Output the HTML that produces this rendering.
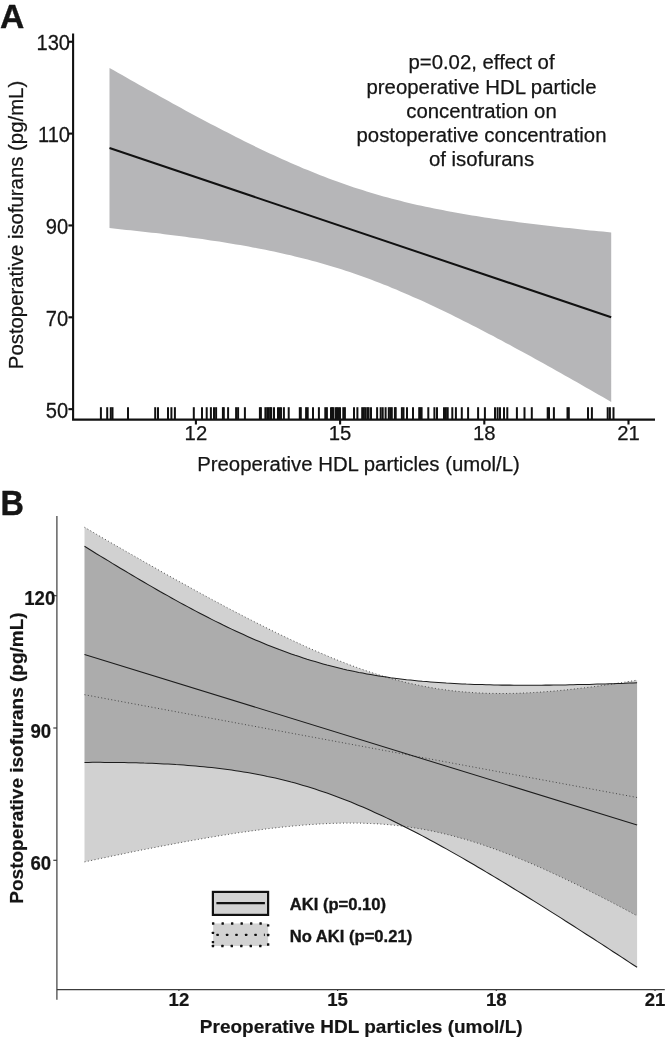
<!DOCTYPE html>
<html><head><meta charset="utf-8"><title>Figure</title>
<style>
html,body{margin:0;padding:0;background:#fff;}
body{width:666px;height:1040px;overflow:hidden;}
svg{display:block;will-change:transform;}
text{font-family:"Liberation Sans",sans-serif;fill:#151515;stroke:#151515;stroke-width:0.25px;stroke-linejoin:round;}
.tb,.tbx,.ttb{stroke-width:0.2px;}
.lg{stroke-width:0.35px;}
.pl{stroke-width:0.4px;}
.t{font-size:20.3px;}
.tt{font-size:20.35px;}
.ty{font-size:20.1px;}
.b{font-weight:bold;}
.tb{font-size:18.6px;font-weight:bold;}
.tbx{font-size:18.6px;font-weight:bold;}
.ttb{font-size:19px;font-weight:bold;}
.lg{font-size:16.6px;font-weight:bold;}
.pl{font-size:33px;font-weight:bold;}
</style></head><body>
<svg width="666" height="1040" viewBox="0 0 666 1040">

<!-- ===== Panel A ===== -->
<text class="pl" style="font-size:33.6px" transform="translate(0,28.25) scale(1,0.995)">A</text>
<polygon points="109.5,67.9 113.7,70.3 117.9,72.7 122.1,75.1 126.4,77.5 130.6,79.9 134.8,82.3 139.0,84.7 143.2,87.1 147.4,89.4 151.7,91.8 155.9,94.1 160.1,96.5 164.3,98.8 168.5,101.1 172.7,103.5 177.0,105.8 181.2,108.1 185.4,110.4 189.6,112.7 193.8,114.9 198.0,117.2 202.3,119.4 206.5,121.7 210.7,123.9 214.9,126.1 219.1,128.3 223.3,130.5 227.5,132.6 231.8,134.8 236.0,136.9 240.2,139.1 244.4,141.2 248.6,143.2 252.8,145.3 257.1,147.4 261.3,149.4 265.5,151.4 269.7,153.4 273.9,155.3 278.1,157.3 282.4,159.2 286.6,161.1 290.8,162.9 295.0,164.8 299.2,166.6 303.4,168.4 307.7,170.1 311.9,171.8 316.1,173.5 320.3,175.2 324.5,176.8 328.7,178.4 332.9,180.0 337.2,181.6 341.4,183.1 345.6,184.5 349.8,186.0 354.0,187.4 358.2,188.8 362.5,190.1 366.7,191.4 370.9,192.7 375.1,194.0 379.3,195.2 383.5,196.4 387.8,197.5 392.0,198.7 396.2,199.8 400.4,200.8 404.6,201.9 408.8,202.9 413.0,203.9 417.3,204.9 421.5,205.8 425.7,206.7 429.9,207.6 434.1,208.5 438.3,209.3 442.6,210.1 446.8,210.9 451.0,211.7 455.2,212.5 459.4,213.2 463.6,214.0 467.9,214.7 472.1,215.4 476.3,216.1 480.5,216.7 484.7,217.4 488.9,218.0 493.2,218.7 497.4,219.3 501.6,219.9 505.8,220.5 510.0,221.0 514.2,221.6 518.4,222.2 522.7,222.7 526.9,223.2 531.1,223.8 535.3,224.3 539.5,224.8 543.7,225.3 548.0,225.8 552.2,226.3 556.4,226.8 560.6,227.2 564.8,227.7 569.0,228.1 573.3,228.6 577.5,229.0 581.7,229.5 585.9,229.9 590.1,230.4 594.3,230.8 598.6,231.2 602.8,231.6 607.0,232.0 611.2,232.4 611.2,402.0 607.0,399.5 602.8,397.1 598.6,394.7 594.3,392.2 590.1,389.8 585.9,387.4 581.7,385.0 577.5,382.6 573.3,380.2 569.0,377.8 564.8,375.4 560.6,373.1 556.4,370.7 552.2,368.3 548.0,366.0 543.7,363.6 539.5,361.3 535.3,358.9 531.1,356.6 526.9,354.3 522.7,352.0 518.4,349.7 514.2,347.4 510.0,345.1 505.8,342.9 501.6,340.6 497.4,338.4 493.2,336.1 488.9,333.9 484.7,331.7 480.5,329.5 476.3,327.3 472.1,325.2 467.9,323.0 463.6,320.9 459.4,318.8 455.2,316.7 451.0,314.6 446.8,312.5 442.6,310.5 438.3,308.5 434.1,306.5 429.9,304.5 425.7,302.6 421.5,300.6 417.3,298.7 413.0,296.9 408.8,295.0 404.6,293.2 400.4,291.4 396.2,289.6 392.0,287.9 387.8,286.1 383.5,284.5 379.3,282.8 375.1,281.2 370.9,279.6 366.7,278.0 362.5,276.5 358.2,275.0 354.0,273.5 349.8,272.1 345.6,270.7 341.4,269.3 337.2,268.0 332.9,266.7 328.7,265.4 324.5,264.2 320.3,263.0 316.1,261.8 311.9,260.7 307.7,259.5 303.4,258.5 299.2,257.4 295.0,256.4 290.8,255.3 286.6,254.4 282.4,253.4 278.1,252.5 273.9,251.6 269.7,250.7 265.5,249.8 261.3,249.0 257.1,248.2 252.8,247.4 248.6,246.6 244.4,245.8 240.2,245.1 236.0,244.4 231.8,243.7 227.5,243.0 223.3,242.3 219.1,241.6 214.9,241.0 210.7,240.4 206.5,239.7 202.3,239.1 198.0,238.5 193.8,238.0 189.6,237.4 185.4,236.8 181.2,236.3 177.0,235.7 172.7,235.2 168.5,234.7 164.3,234.2 160.1,233.6 155.9,233.1 151.7,232.7 147.4,232.2 143.2,231.7 139.0,231.2 134.8,230.8 130.6,230.3 126.4,229.9 122.1,229.4 117.9,229.0 113.7,228.5 109.5,228.1" fill="#b6b6b8"/>
<line x1="109.5" y1="148.0" x2="611.2" y2="317.2" stroke="#111" stroke-width="2"/>
<g stroke="#111" stroke-width="2.1" fill="none">
<path d="M73.1,33.4 V419.6 H655"/>
<line x1="68.4" y1="41.75" x2="73.1" y2="41.75"/><line x1="68.4" y1="133.6" x2="73.1" y2="133.6"/><line x1="68.4" y1="225.45" x2="73.1" y2="225.45"/><line x1="68.4" y1="317.3" x2="73.1" y2="317.3"/><line x1="68.4" y1="409.15" x2="73.1" y2="409.15"/>
<line x1="195.9" y1="419.6" x2="195.9" y2="424.5"/><line x1="340.1" y1="419.6" x2="340.1" y2="424.5"/><line x1="484.3" y1="419.6" x2="484.3" y2="424.5"/><line x1="628.5" y1="419.6" x2="628.5" y2="424.5"/>
</g>
<g stroke="#111" stroke-width="2"><line x1="100.9" y1="407.2" x2="100.9" y2="419.6"/><line x1="107.2" y1="407.2" x2="107.2" y2="419.6"/><line x1="110.8" y1="407.2" x2="110.8" y2="419.6"/><line x1="112.5" y1="407.2" x2="112.5" y2="419.6"/><line x1="128.0" y1="407.2" x2="128.0" y2="419.6"/><line x1="155.2" y1="407.2" x2="155.2" y2="419.6"/><line x1="158.0" y1="407.2" x2="158.0" y2="419.6"/><line x1="168.0" y1="407.2" x2="168.0" y2="419.6"/><line x1="171.4" y1="407.2" x2="171.4" y2="419.6"/><line x1="174.9" y1="407.2" x2="174.9" y2="419.6"/><line x1="193.8" y1="407.2" x2="193.8" y2="419.6"/><line x1="202.0" y1="407.2" x2="202.0" y2="419.6"/><line x1="206.7" y1="407.2" x2="206.7" y2="419.6"/><line x1="210.9" y1="407.2" x2="210.9" y2="419.6"/><line x1="214.0" y1="407.2" x2="214.0" y2="419.6"/><line x1="216.1" y1="407.2" x2="216.1" y2="419.6"/><line x1="222.9" y1="407.2" x2="222.9" y2="419.6"/><line x1="223.8" y1="407.2" x2="223.8" y2="419.6"/><line x1="228.1" y1="407.2" x2="228.1" y2="419.6"/><line x1="236.1" y1="407.2" x2="236.1" y2="419.6"/><line x1="238.1" y1="407.2" x2="238.1" y2="419.6"/><line x1="244.9" y1="407.2" x2="244.9" y2="419.6"/><line x1="259.9" y1="407.2" x2="259.9" y2="419.6"/><line x1="260.9" y1="407.2" x2="260.9" y2="419.6"/><line x1="265.4" y1="407.2" x2="265.4" y2="419.6"/><line x1="267.2" y1="407.2" x2="267.2" y2="419.6"/><line x1="268.8" y1="407.2" x2="268.8" y2="419.6"/><line x1="270.4" y1="407.2" x2="270.4" y2="419.6"/><line x1="271.2" y1="407.2" x2="271.2" y2="419.6"/><line x1="274.0" y1="407.2" x2="274.0" y2="419.6"/><line x1="278.0" y1="407.2" x2="278.0" y2="419.6"/><line x1="279.6" y1="407.2" x2="279.6" y2="419.6"/><line x1="281.0" y1="407.2" x2="281.0" y2="419.6"/><line x1="283.9" y1="407.2" x2="283.9" y2="419.6"/><line x1="288.7" y1="407.2" x2="288.7" y2="419.6"/><line x1="299.8" y1="407.2" x2="299.8" y2="419.6"/><line x1="300.8" y1="407.2" x2="300.8" y2="419.6"/><line x1="306.1" y1="407.2" x2="306.1" y2="419.6"/><line x1="307.7" y1="407.2" x2="307.7" y2="419.6"/><line x1="313.0" y1="407.2" x2="313.0" y2="419.6"/><line x1="318.9" y1="407.2" x2="318.9" y2="419.6"/><line x1="325.3" y1="407.2" x2="325.3" y2="419.6"/><line x1="326.9" y1="407.2" x2="326.9" y2="419.6"/><line x1="331.0" y1="407.2" x2="331.0" y2="419.6"/><line x1="332.2" y1="407.2" x2="332.2" y2="419.6"/><line x1="333.2" y1="407.2" x2="333.2" y2="419.6"/><line x1="335.6" y1="407.2" x2="335.6" y2="419.6"/><line x1="337.0" y1="407.2" x2="337.0" y2="419.6"/><line x1="338.5" y1="407.2" x2="338.5" y2="419.6"/><line x1="340.0" y1="407.2" x2="340.0" y2="419.6"/><line x1="343.3" y1="407.2" x2="343.3" y2="419.6"/><line x1="344.9" y1="407.2" x2="344.9" y2="419.6"/><line x1="354.0" y1="407.2" x2="354.0" y2="419.6"/><line x1="357.4" y1="407.2" x2="357.4" y2="419.6"/><line x1="362.2" y1="407.2" x2="362.2" y2="419.6"/><line x1="363.8" y1="407.2" x2="363.8" y2="419.6"/><line x1="365.3" y1="407.2" x2="365.3" y2="419.6"/><line x1="367.3" y1="407.2" x2="367.3" y2="419.6"/><line x1="368.6" y1="407.2" x2="368.6" y2="419.6"/><line x1="371.0" y1="407.2" x2="371.0" y2="419.6"/><line x1="377.1" y1="407.2" x2="377.1" y2="419.6"/><line x1="380.7" y1="407.2" x2="380.7" y2="419.6"/><line x1="382.7" y1="407.2" x2="382.7" y2="419.6"/><line x1="385.6" y1="407.2" x2="385.6" y2="419.6"/><line x1="388.8" y1="407.2" x2="388.8" y2="419.6"/><line x1="390.3" y1="407.2" x2="390.3" y2="419.6"/><line x1="391.8" y1="407.2" x2="391.8" y2="419.6"/><line x1="394.9" y1="407.2" x2="394.9" y2="419.6"/><line x1="395.7" y1="407.2" x2="395.7" y2="419.6"/><line x1="401.9" y1="407.2" x2="401.9" y2="419.6"/><line x1="403.5" y1="407.2" x2="403.5" y2="419.6"/><line x1="407.0" y1="407.2" x2="407.0" y2="419.6"/><line x1="413.0" y1="407.2" x2="413.0" y2="419.6"/><line x1="419.2" y1="407.2" x2="419.2" y2="419.6"/><line x1="420.4" y1="407.2" x2="420.4" y2="419.6"/><line x1="421.6" y1="407.2" x2="421.6" y2="419.6"/><line x1="428.3" y1="407.2" x2="428.3" y2="419.6"/><line x1="434.4" y1="407.2" x2="434.4" y2="419.6"/><line x1="437.0" y1="407.2" x2="437.0" y2="419.6"/><line x1="444.0" y1="407.2" x2="444.0" y2="419.6"/><line x1="445.9" y1="407.2" x2="445.9" y2="419.6"/><line x1="447.7" y1="407.2" x2="447.7" y2="419.6"/><line x1="452.3" y1="407.2" x2="452.3" y2="419.6"/><line x1="455.9" y1="407.2" x2="455.9" y2="419.6"/><line x1="461.8" y1="407.2" x2="461.8" y2="419.6"/><line x1="468.1" y1="407.2" x2="468.1" y2="419.6"/><line x1="478.1" y1="407.2" x2="478.1" y2="419.6"/><line x1="484.9" y1="407.2" x2="484.9" y2="419.6"/><line x1="495.0" y1="407.2" x2="495.0" y2="419.6"/><line x1="497.6" y1="407.2" x2="497.6" y2="419.6"/><line x1="500.0" y1="407.2" x2="500.0" y2="419.6"/><line x1="504.0" y1="407.2" x2="504.0" y2="419.6"/><line x1="507.3" y1="407.2" x2="507.3" y2="419.6"/><line x1="516.9" y1="407.2" x2="516.9" y2="419.6"/><line x1="524.5" y1="407.2" x2="524.5" y2="419.6"/><line x1="531.8" y1="407.2" x2="531.8" y2="419.6"/><line x1="547.7" y1="407.2" x2="547.7" y2="419.6"/><line x1="549.0" y1="407.2" x2="549.0" y2="419.6"/><line x1="553.9" y1="407.2" x2="553.9" y2="419.6"/><line x1="567.5" y1="407.2" x2="567.5" y2="419.6"/><line x1="568.8" y1="407.2" x2="568.8" y2="419.6"/><line x1="588.0" y1="407.2" x2="588.0" y2="419.6"/><line x1="591.9" y1="407.2" x2="591.9" y2="419.6"/><line x1="607.7" y1="407.2" x2="607.7" y2="419.6"/><line x1="609.9" y1="407.2" x2="609.9" y2="419.6"/><line x1="613.5" y1="407.2" x2="613.5" y2="419.6"/></g>
<g class="t" text-anchor="end">
<text class="ty" transform="translate(70.0,50.2) scale(1,1.07)">130</text><text class="ty" transform="translate(70.0,142.1) scale(1,1.07)">110</text><text class="ty" transform="translate(68.2,233.9) scale(1,1.07)">90</text><text class="ty" transform="translate(68.2,325.8) scale(1,1.07)">70</text><text class="ty" transform="translate(68.2,417.6) scale(1,1.07)">50</text>
</g>
<g text-anchor="middle">
<text class="t" x="195.9" y="440.1">12</text><text class="t" x="340.1" y="440.1">15</text><text class="t" x="484.3" y="440.1">18</text><text class="t" x="628.5" y="440.1">21</text>
<text class="tt" x="358.5" y="470.9">Preoperative HDL particles (umol/L)</text>
<text class="tt" transform="translate(22.6,225) rotate(-90)">Postoperative isofurans (pg/mL)</text>
<text class="tt" x="481.5" y="69.4">p=0.02, effect of</text>
<text class="tt" x="481.5" y="93.6">preoperative HDL particle</text>
<text class="tt" x="481.5" y="117.8">concentration on</text>
<text class="tt" x="481.5" y="142.0">postoperative concentration</text>
<text class="tt" x="481.5" y="166.2">of isofurans</text>
</g>
<!-- ===== Panel B ===== -->
<text class="pl" style="font-size:32.4px" transform="translate(0.4,515.0) scale(1,1.06)">B</text>
<polygon points="84.5,527.3 88.5,529.6 92.5,531.9 96.4,534.2 100.4,536.6 104.4,538.9 108.4,541.2 112.3,543.5 116.3,545.8 120.3,548.1 124.3,550.4 128.2,552.7 132.2,554.9 136.2,557.2 140.2,559.5 144.1,561.8 148.1,564.0 152.1,566.3 156.1,568.5 160.0,570.8 164.0,573.0 168.0,575.3 172.0,577.5 175.9,579.7 179.9,581.9 183.9,584.1 187.9,586.3 191.8,588.5 195.8,590.7 199.8,592.9 203.8,595.1 207.7,597.2 211.7,599.4 215.7,601.5 219.7,603.6 223.6,605.8 227.6,607.9 231.6,610.0 235.6,612.1 239.5,614.1 243.5,616.2 247.5,618.3 251.5,620.3 255.4,622.3 259.4,624.3 263.4,626.3 267.4,628.3 271.4,630.3 275.3,632.2 279.3,634.2 283.3,636.1 287.3,638.0 291.2,639.9 295.2,641.7 299.2,643.6 303.2,645.4 307.1,647.2 311.1,649.0 315.1,650.7 319.1,652.4 323.0,654.1 327.0,655.8 331.0,657.5 335.0,659.1 338.9,660.7 342.9,662.2 346.9,663.8 350.9,665.3 354.8,666.7 358.8,668.2 362.8,669.6 366.8,671.0 370.7,672.3 374.7,673.6 378.7,674.8 382.7,676.1 386.6,677.3 390.6,678.4 394.6,679.5 398.6,680.6 402.5,681.6 406.5,682.6 410.5,683.5 414.5,684.4 418.4,685.2 422.4,686.1 426.4,686.8 430.4,687.5 434.3,688.2 438.3,688.9 442.3,689.4 446.3,690.0 450.2,690.5 454.2,691.0 458.2,691.4 462.2,691.8 466.2,692.1 470.1,692.4 474.1,692.7 478.1,692.9 482.1,693.1 486.0,693.3 490.0,693.4 494.0,693.4 498.0,693.5 501.9,693.5 505.9,693.5 509.9,693.4 513.9,693.4 517.8,693.3 521.8,693.1 525.8,692.9 529.8,692.8 533.7,692.5 537.7,692.3 541.7,692.0 545.7,691.7 549.6,691.4 553.6,691.1 557.6,690.7 561.6,690.3 565.5,690.0 569.5,689.5 573.5,689.1 577.5,688.6 581.4,688.2 585.4,687.7 589.4,687.2 593.4,686.7 597.3,686.2 601.3,685.6 605.3,685.0 609.3,684.5 613.2,683.9 617.2,683.3 621.2,682.7 625.2,682.1 629.1,681.4 633.1,680.8 637.1,680.2 637.1,915.8 633.1,913.7 629.1,911.5 625.2,909.4 621.2,907.3 617.2,905.2 613.2,903.1 609.3,901.0 605.3,899.0 601.3,896.9 597.3,894.9 593.4,892.9 589.4,890.9 585.4,888.9 581.4,886.9 577.5,884.9 573.5,883.0 569.5,881.1 565.5,879.2 561.6,877.3 557.6,875.4 553.6,873.6 549.6,871.7 545.7,869.9 541.7,868.1 537.7,866.4 533.7,864.6 529.8,862.9 525.8,861.2 521.8,859.6 517.8,858.0 513.9,856.3 509.9,854.8 505.9,853.2 501.9,851.7 498.0,850.2 494.0,848.8 490.0,847.4 486.0,846.0 482.1,844.6 478.1,843.3 474.1,842.1 470.1,840.8 466.2,839.6 462.2,838.5 458.2,837.4 454.2,836.3 450.2,835.2 446.3,834.3 442.3,833.3 438.3,832.4 434.3,831.5 430.4,830.7 426.4,829.9 422.4,829.2 418.4,828.5 414.5,827.9 410.5,827.3 406.5,826.7 402.5,826.2 398.6,825.7 394.6,825.3 390.6,824.9 386.6,824.5 382.7,824.2 378.7,823.9 374.7,823.7 370.7,823.5 366.8,823.4 362.8,823.2 358.8,823.1 354.8,823.1 350.9,823.1 346.9,823.1 342.9,823.1 338.9,823.2 335.0,823.3 331.0,823.4 327.0,823.6 323.0,823.8 319.1,824.0 315.1,824.3 311.1,824.5 307.1,824.8 303.2,825.1 299.2,825.5 295.2,825.8 291.2,826.2 287.3,826.6 283.3,827.0 279.3,827.4 275.3,827.9 271.4,828.3 267.4,828.8 263.4,829.3 259.4,829.9 255.4,830.4 251.5,830.9 247.5,831.5 243.5,832.1 239.5,832.6 235.6,833.2 231.6,833.8 227.6,834.5 223.6,835.1 219.7,835.7 215.7,836.4 211.7,837.1 207.7,837.7 203.8,838.4 199.8,839.1 195.8,839.8 191.8,840.5 187.9,841.2 183.9,841.9 179.9,842.7 175.9,843.4 172.0,844.2 168.0,844.9 164.0,845.7 160.0,846.4 156.1,847.2 152.1,848.0 148.1,848.8 144.1,849.5 140.2,850.3 136.2,851.1 132.2,851.9 128.2,852.7 124.3,853.6 120.3,854.4 116.3,855.2 112.3,856.0 108.4,856.9 104.4,857.7 100.4,858.5 96.4,859.4 92.5,860.2 88.5,861.1 84.5,861.9" fill="#000" fill-opacity="0.18"/>
<polygon points="84.5,546.3 88.5,548.7 92.5,551.2 96.4,553.7 100.4,556.1 104.4,558.5 108.4,560.9 112.3,563.4 116.3,565.8 120.3,568.2 124.3,570.5 128.2,572.9 132.2,575.3 136.2,577.6 140.2,580.0 144.1,582.3 148.1,584.6 152.1,586.9 156.1,589.2 160.0,591.5 164.0,593.7 168.0,595.9 172.0,598.2 175.9,600.4 179.9,602.6 183.9,604.7 187.9,606.9 191.8,609.0 195.8,611.1 199.8,613.2 203.8,615.3 207.7,617.3 211.7,619.4 215.7,621.4 219.7,623.3 223.6,625.3 227.6,627.2 231.6,629.1 235.6,631.0 239.5,632.8 243.5,634.6 247.5,636.4 251.5,638.2 255.4,639.9 259.4,641.6 263.4,643.3 267.4,644.9 271.4,646.5 275.3,648.0 279.3,649.6 283.3,651.0 287.3,652.5 291.2,653.9 295.2,655.3 299.2,656.6 303.2,657.9 307.1,659.2 311.1,660.4 315.1,661.6 319.1,662.8 323.0,663.9 327.0,665.0 331.0,666.0 335.0,667.0 338.9,668.0 342.9,669.0 346.9,669.9 350.9,670.7 354.8,671.6 358.8,672.4 362.8,673.1 366.8,673.9 370.7,674.6 374.7,675.3 378.7,675.9 382.7,676.5 386.6,677.1 390.6,677.7 394.6,678.2 398.6,678.7 402.5,679.2 406.5,679.7 410.5,680.1 414.5,680.5 418.4,680.9 422.4,681.3 426.4,681.6 430.4,681.9 434.3,682.2 438.3,682.5 442.3,682.8 446.3,683.1 450.2,683.3 454.2,683.5 458.2,683.7 462.2,683.9 466.2,684.1 470.1,684.2 474.1,684.4 478.1,684.5 482.1,684.6 486.0,684.7 490.0,684.8 494.0,684.9 498.0,685.0 501.9,685.1 505.9,685.1 509.9,685.1 513.9,685.2 517.8,685.2 521.8,685.2 525.8,685.2 529.8,685.2 533.7,685.2 537.7,685.2 541.7,685.2 545.7,685.1 549.6,685.1 553.6,685.0 557.6,685.0 561.6,684.9 565.5,684.9 569.5,684.8 573.5,684.7 577.5,684.6 581.4,684.5 585.4,684.5 589.4,684.4 593.4,684.2 597.3,684.1 601.3,684.0 605.3,683.9 609.3,683.8 613.2,683.7 617.2,683.5 621.2,683.4 625.2,683.3 629.1,683.1 633.1,683.0 637.1,682.8 637.1,967.3 633.1,964.7 629.1,962.1 625.2,959.5 621.2,956.9 617.2,954.3 613.2,951.7 609.3,949.1 605.3,946.5 601.3,943.9 597.3,941.4 593.4,938.8 589.4,936.2 585.4,933.7 581.4,931.1 577.5,928.6 573.5,926.0 569.5,923.5 565.5,921.0 561.6,918.4 557.6,915.9 553.6,913.4 549.6,910.9 545.7,908.4 541.7,905.9 537.7,903.4 533.7,900.9 529.8,898.5 525.8,896.0 521.8,893.5 517.8,891.1 513.9,888.7 509.9,886.2 505.9,883.8 501.9,881.4 498.0,879.0 494.0,876.6 490.0,874.2 486.0,871.9 482.1,869.5 478.1,867.2 474.1,864.8 470.1,862.5 466.2,860.2 462.2,857.9 458.2,855.6 454.2,853.4 450.2,851.1 446.3,848.9 442.3,846.7 438.3,844.5 434.3,842.3 430.4,840.2 426.4,838.0 422.4,835.9 418.4,833.8 414.5,831.7 410.5,829.7 406.5,827.7 402.5,825.7 398.6,823.7 394.6,821.7 390.6,819.8 386.6,817.9 382.7,816.0 378.7,814.2 374.7,812.4 370.7,810.6 366.8,808.8 362.8,807.1 358.8,805.4 354.8,803.7 350.9,802.1 346.9,800.5 342.9,799.0 338.9,797.4 335.0,796.0 331.0,794.5 327.0,793.1 323.0,791.7 319.1,790.4 315.1,789.1 311.1,787.8 307.1,786.6 303.2,785.4 299.2,784.2 295.2,783.1 291.2,782.1 287.3,781.0 283.3,780.0 279.3,779.0 275.3,778.1 271.4,777.2 267.4,776.4 263.4,775.5 259.4,774.7 255.4,774.0 251.5,773.3 247.5,772.6 243.5,771.9 239.5,771.3 235.6,770.7 231.6,770.1 227.6,769.5 223.6,769.0 219.7,768.5 215.7,768.0 211.7,767.6 207.7,767.2 203.8,766.8 199.8,766.4 195.8,766.0 191.8,765.7 187.9,765.4 183.9,765.1 179.9,764.8 175.9,764.6 172.0,764.3 168.0,764.1 164.0,763.9 160.0,763.7 156.1,763.5 152.1,763.3 148.1,763.2 144.1,763.1 140.2,762.9 136.2,762.8 132.2,762.7 128.2,762.7 124.3,762.6 120.3,762.5 116.3,762.5 112.3,762.4 108.4,762.4 104.4,762.4 100.4,762.3 96.4,762.3 92.5,762.3 88.5,762.4 84.5,762.4" fill="#000" fill-opacity="0.18"/>
<g fill="none" stroke="#3a3a3a" stroke-width="0.9" stroke-dasharray="1 2.4">
<polyline points="84.5,527.3 88.5,529.6 92.5,531.9 96.4,534.2 100.4,536.6 104.4,538.9 108.4,541.2 112.3,543.5 116.3,545.8 120.3,548.1 124.3,550.4 128.2,552.7 132.2,554.9 136.2,557.2 140.2,559.5 144.1,561.8 148.1,564.0 152.1,566.3 156.1,568.5 160.0,570.8 164.0,573.0 168.0,575.3 172.0,577.5 175.9,579.7 179.9,581.9 183.9,584.1 187.9,586.3 191.8,588.5 195.8,590.7 199.8,592.9 203.8,595.1 207.7,597.2 211.7,599.4 215.7,601.5 219.7,603.6 223.6,605.8 227.6,607.9 231.6,610.0 235.6,612.1 239.5,614.1 243.5,616.2 247.5,618.3 251.5,620.3 255.4,622.3 259.4,624.3 263.4,626.3 267.4,628.3 271.4,630.3 275.3,632.2 279.3,634.2 283.3,636.1 287.3,638.0 291.2,639.9 295.2,641.7 299.2,643.6 303.2,645.4 307.1,647.2 311.1,649.0 315.1,650.7 319.1,652.4 323.0,654.1 327.0,655.8 331.0,657.5 335.0,659.1 338.9,660.7 342.9,662.2 346.9,663.8 350.9,665.3 354.8,666.7 358.8,668.2 362.8,669.6 366.8,671.0 370.7,672.3 374.7,673.6 378.7,674.8 382.7,676.1 386.6,677.3 390.6,678.4 394.6,679.5 398.6,680.6 402.5,681.6 406.5,682.6 410.5,683.5 414.5,684.4 418.4,685.2 422.4,686.1 426.4,686.8 430.4,687.5 434.3,688.2 438.3,688.9 442.3,689.4 446.3,690.0 450.2,690.5 454.2,691.0 458.2,691.4 462.2,691.8 466.2,692.1 470.1,692.4 474.1,692.7 478.1,692.9 482.1,693.1 486.0,693.3 490.0,693.4 494.0,693.4 498.0,693.5 501.9,693.5 505.9,693.5 509.9,693.4 513.9,693.4 517.8,693.3 521.8,693.1 525.8,692.9 529.8,692.8 533.7,692.5 537.7,692.3 541.7,692.0 545.7,691.7 549.6,691.4 553.6,691.1 557.6,690.7 561.6,690.3 565.5,690.0 569.5,689.5 573.5,689.1 577.5,688.6 581.4,688.2 585.4,687.7 589.4,687.2 593.4,686.7 597.3,686.2 601.3,685.6 605.3,685.0 609.3,684.5 613.2,683.9 617.2,683.3 621.2,682.7 625.2,682.1 629.1,681.4 633.1,680.8 637.1,680.2"/>
<polyline points="84.5,861.9 88.5,861.1 92.5,860.2 96.4,859.4 100.4,858.5 104.4,857.7 108.4,856.9 112.3,856.0 116.3,855.2 120.3,854.4 124.3,853.6 128.2,852.7 132.2,851.9 136.2,851.1 140.2,850.3 144.1,849.5 148.1,848.8 152.1,848.0 156.1,847.2 160.0,846.4 164.0,845.7 168.0,844.9 172.0,844.2 175.9,843.4 179.9,842.7 183.9,841.9 187.9,841.2 191.8,840.5 195.8,839.8 199.8,839.1 203.8,838.4 207.7,837.7 211.7,837.1 215.7,836.4 219.7,835.7 223.6,835.1 227.6,834.5 231.6,833.8 235.6,833.2 239.5,832.6 243.5,832.1 247.5,831.5 251.5,830.9 255.4,830.4 259.4,829.9 263.4,829.3 267.4,828.8 271.4,828.3 275.3,827.9 279.3,827.4 283.3,827.0 287.3,826.6 291.2,826.2 295.2,825.8 299.2,825.5 303.2,825.1 307.1,824.8 311.1,824.5 315.1,824.3 319.1,824.0 323.0,823.8 327.0,823.6 331.0,823.4 335.0,823.3 338.9,823.2 342.9,823.1 346.9,823.1 350.9,823.1 354.8,823.1 358.8,823.1 362.8,823.2 366.8,823.4 370.7,823.5 374.7,823.7 378.7,823.9 382.7,824.2 386.6,824.5 390.6,824.9 394.6,825.3 398.6,825.7 402.5,826.2 406.5,826.7 410.5,827.3 414.5,827.9 418.4,828.5 422.4,829.2 426.4,829.9 430.4,830.7 434.3,831.5 438.3,832.4 442.3,833.3 446.3,834.3 450.2,835.2 454.2,836.3 458.2,837.4 462.2,838.5 466.2,839.6 470.1,840.8 474.1,842.1 478.1,843.3 482.1,844.6 486.0,846.0 490.0,847.4 494.0,848.8 498.0,850.2 501.9,851.7 505.9,853.2 509.9,854.8 513.9,856.3 517.8,858.0 521.8,859.6 525.8,861.2 529.8,862.9 533.7,864.6 537.7,866.4 541.7,868.1 545.7,869.9 549.6,871.7 553.6,873.6 557.6,875.4 561.6,877.3 565.5,879.2 569.5,881.1 573.5,883.0 577.5,884.9 581.4,886.9 585.4,888.9 589.4,890.9 593.4,892.9 597.3,894.9 601.3,896.9 605.3,899.0 609.3,901.0 613.2,903.1 617.2,905.2 621.2,907.3 625.2,909.4 629.1,911.5 633.1,913.7 637.1,915.8"/>
<line x1="84.5" y1="694.7" x2="637.1" y2="797.5"/>
</g>
<g fill="none" stroke="#1c1c1c" stroke-width="1.05">
<polyline points="84.5,546.3 88.5,548.7 92.5,551.2 96.4,553.7 100.4,556.1 104.4,558.5 108.4,560.9 112.3,563.4 116.3,565.8 120.3,568.2 124.3,570.5 128.2,572.9 132.2,575.3 136.2,577.6 140.2,580.0 144.1,582.3 148.1,584.6 152.1,586.9 156.1,589.2 160.0,591.5 164.0,593.7 168.0,595.9 172.0,598.2 175.9,600.4 179.9,602.6 183.9,604.7 187.9,606.9 191.8,609.0 195.8,611.1 199.8,613.2 203.8,615.3 207.7,617.3 211.7,619.4 215.7,621.4 219.7,623.3 223.6,625.3 227.6,627.2 231.6,629.1 235.6,631.0 239.5,632.8 243.5,634.6 247.5,636.4 251.5,638.2 255.4,639.9 259.4,641.6 263.4,643.3 267.4,644.9 271.4,646.5 275.3,648.0 279.3,649.6 283.3,651.0 287.3,652.5 291.2,653.9 295.2,655.3 299.2,656.6 303.2,657.9 307.1,659.2 311.1,660.4 315.1,661.6 319.1,662.8 323.0,663.9 327.0,665.0 331.0,666.0 335.0,667.0 338.9,668.0 342.9,669.0 346.9,669.9 350.9,670.7 354.8,671.6 358.8,672.4 362.8,673.1 366.8,673.9 370.7,674.6 374.7,675.3 378.7,675.9 382.7,676.5 386.6,677.1 390.6,677.7 394.6,678.2 398.6,678.7 402.5,679.2 406.5,679.7 410.5,680.1 414.5,680.5 418.4,680.9 422.4,681.3 426.4,681.6 430.4,681.9 434.3,682.2 438.3,682.5 442.3,682.8 446.3,683.1 450.2,683.3 454.2,683.5 458.2,683.7 462.2,683.9 466.2,684.1 470.1,684.2 474.1,684.4 478.1,684.5 482.1,684.6 486.0,684.7 490.0,684.8 494.0,684.9 498.0,685.0 501.9,685.1 505.9,685.1 509.9,685.1 513.9,685.2 517.8,685.2 521.8,685.2 525.8,685.2 529.8,685.2 533.7,685.2 537.7,685.2 541.7,685.2 545.7,685.1 549.6,685.1 553.6,685.0 557.6,685.0 561.6,684.9 565.5,684.9 569.5,684.8 573.5,684.7 577.5,684.6 581.4,684.5 585.4,684.5 589.4,684.4 593.4,684.2 597.3,684.1 601.3,684.0 605.3,683.9 609.3,683.8 613.2,683.7 617.2,683.5 621.2,683.4 625.2,683.3 629.1,683.1 633.1,683.0 637.1,682.8"/>
<polyline points="84.5,762.4 88.5,762.4 92.5,762.3 96.4,762.3 100.4,762.3 104.4,762.4 108.4,762.4 112.3,762.4 116.3,762.5 120.3,762.5 124.3,762.6 128.2,762.7 132.2,762.7 136.2,762.8 140.2,762.9 144.1,763.1 148.1,763.2 152.1,763.3 156.1,763.5 160.0,763.7 164.0,763.9 168.0,764.1 172.0,764.3 175.9,764.6 179.9,764.8 183.9,765.1 187.9,765.4 191.8,765.7 195.8,766.0 199.8,766.4 203.8,766.8 207.7,767.2 211.7,767.6 215.7,768.0 219.7,768.5 223.6,769.0 227.6,769.5 231.6,770.1 235.6,770.7 239.5,771.3 243.5,771.9 247.5,772.6 251.5,773.3 255.4,774.0 259.4,774.7 263.4,775.5 267.4,776.4 271.4,777.2 275.3,778.1 279.3,779.0 283.3,780.0 287.3,781.0 291.2,782.1 295.2,783.1 299.2,784.2 303.2,785.4 307.1,786.6 311.1,787.8 315.1,789.1 319.1,790.4 323.0,791.7 327.0,793.1 331.0,794.5 335.0,796.0 338.9,797.4 342.9,799.0 346.9,800.5 350.9,802.1 354.8,803.7 358.8,805.4 362.8,807.1 366.8,808.8 370.7,810.6 374.7,812.4 378.7,814.2 382.7,816.0 386.6,817.9 390.6,819.8 394.6,821.7 398.6,823.7 402.5,825.7 406.5,827.7 410.5,829.7 414.5,831.7 418.4,833.8 422.4,835.9 426.4,838.0 430.4,840.2 434.3,842.3 438.3,844.5 442.3,846.7 446.3,848.9 450.2,851.1 454.2,853.4 458.2,855.6 462.2,857.9 466.2,860.2 470.1,862.5 474.1,864.8 478.1,867.2 482.1,869.5 486.0,871.9 490.0,874.2 494.0,876.6 498.0,879.0 501.9,881.4 505.9,883.8 509.9,886.2 513.9,888.7 517.8,891.1 521.8,893.5 525.8,896.0 529.8,898.5 533.7,900.9 537.7,903.4 541.7,905.9 545.7,908.4 549.6,910.9 553.6,913.4 557.6,915.9 561.6,918.4 565.5,921.0 569.5,923.5 573.5,926.0 577.5,928.6 581.4,931.1 585.4,933.7 589.4,936.2 593.4,938.8 597.3,941.4 601.3,943.9 605.3,946.5 609.3,949.1 613.2,951.7 617.2,954.3 621.2,956.9 625.2,959.5 629.1,962.1 633.1,964.7 637.1,967.3"/>
<line x1="84.5" y1="654.5" x2="637.1" y2="825.0"/>
</g>
<g stroke="#3c3c3c" stroke-width="1.2" fill="none">
<path d="M56.9,516 V999.7"/>
<path d="M56.9,989.6 H664.8"/>
<line x1="53.3" y1="595.7" x2="57" y2="595.7"/><line x1="53.3" y1="728.0" x2="57" y2="728.0"/><line x1="53.3" y1="860.3" x2="57" y2="860.3"/>
<line x1="178.9" y1="989.5" x2="178.9" y2="991"/><line x1="337.6" y1="989.5" x2="337.6" y2="991"/><line x1="496.3" y1="989.5" x2="496.3" y2="991"/><line x1="655.0" y1="989.5" x2="655.0" y2="991"/>
</g>
<g text-anchor="end">
<text class="tb" transform="translate(55.3,605.3) scale(1,1.065)">120</text><text class="tb" transform="translate(51.2,737.6) scale(1,1.065)">90</text><text class="tb" transform="translate(51.2,869.9) scale(1,1.065)">60</text>
</g>
<g text-anchor="middle">
<text class="tbx" x="178.9" y="1005.7">12</text><text class="tbx" x="337.6" y="1005.7">15</text><text class="tbx" x="496.3" y="1005.7">18</text><text class="tbx" x="655.0" y="1005.7">21</text>
<text class="ttb" x="361.2" y="1032.6">Preoperative HDL particles (umol/L)</text>
<text class="ttb" transform="translate(22.9,758.0) rotate(-90)">Postoperative isofurans (pg/mL)</text>
</g>
<!-- legend -->
<rect x="212.9" y="891.9" width="55.2" height="23.0" fill="#d2d2d2" stroke="#111" stroke-width="2.2"/>
<line x1="216.4" y1="903.2" x2="264.9" y2="903.2" stroke="#111" stroke-width="2.2"/>
<rect x="213.15" y="923.45" width="55" height="22.6" fill="#d2d2d2"/>
<g fill="#111"><rect x="211.95" y="922.25" width="2.4" height="2.4" rx="0.5"/><rect x="221.47" y="922.25" width="2.4" height="2.4" rx="0.5"/><rect x="230.98" y="922.25" width="2.4" height="2.4" rx="0.5"/><rect x="240.50" y="922.25" width="2.4" height="2.4" rx="0.5"/><rect x="250.00" y="922.25" width="2.4" height="2.4" rx="0.5"/><rect x="259.40" y="922.25" width="2.4" height="2.4" rx="0.5"/><rect x="266.95" y="924.20" width="2.4" height="2.4" rx="0.5"/><rect x="266.95" y="933.85" width="2.4" height="2.4" rx="0.5"/><rect x="266.95" y="943.30" width="2.4" height="2.4" rx="0.5"/><rect x="211.75" y="944.85" width="2.4" height="2.4" rx="0.5"/><rect x="221.20" y="944.85" width="2.4" height="2.4" rx="0.5"/><rect x="230.60" y="944.85" width="2.4" height="2.4" rx="0.5"/><rect x="240.10" y="944.85" width="2.4" height="2.4" rx="0.5"/><rect x="249.60" y="944.85" width="2.4" height="2.4" rx="0.5"/><rect x="259.10" y="944.85" width="2.4" height="2.4" rx="0.5"/><rect x="211.75" y="931.70" width="2.4" height="2.4" rx="0.5"/><rect x="211.75" y="940.90" width="2.4" height="2.4" rx="0.5"/><rect x="216.40" y="933.65" width="2.4" height="2.4" rx="0.5"/><rect x="225.90" y="933.65" width="2.4" height="2.4" rx="0.5"/><rect x="235.30" y="933.65" width="2.4" height="2.4" rx="0.5"/><rect x="244.95" y="933.65" width="2.4" height="2.4" rx="0.5"/><rect x="254.40" y="933.65" width="2.4" height="2.4" rx="0.5"/><rect x="263.9" y="933.65" width="0.9" height="2.4"/></g>
<text class="lg" x="289.7" y="910.4">AKI (p=0.10)</text>
<text class="lg" x="289.7" y="941.6">No AKI (p=0.21)</text>
</svg>
</body></html>
